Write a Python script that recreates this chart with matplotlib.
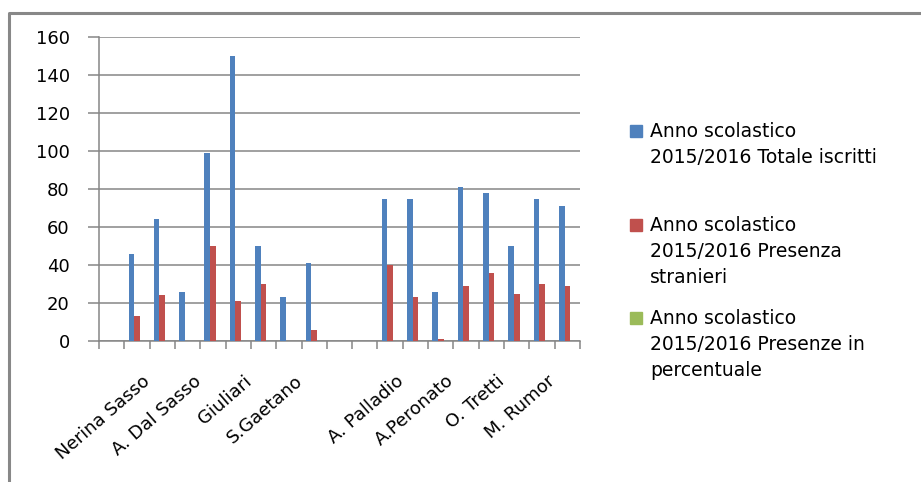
import numpy as np
import matplotlib
matplotlib.use("Agg")
import matplotlib.pyplot as plt
from matplotlib.patches import Rectangle
from matplotlib.lines import Line2D
from matplotlib.transforms import ScaledTranslation

plt.rcParams['font.family'] = ['DejaVu Sans']

# schools, only every other label is shown on the axis
scuole = ["", "Nerina Sasso", "", "A. Dal Sasso", "", "Giuliari", "", "S.Gaetano",
          "", "", "", "A. Palladio", "", "A.Peronato", "", "O. Tretti", "", "M. Rumor", ""]
totale_iscritti = [0, 46, 64, 26, 99, 150, 50, 23, 41, 0, 0, 75, 75, 26, 81, 78, 50, 75, 71]
presenza_stranieri = [0, 13, 24, 0, 50, 21, 30, 0, 6, 0, 0, 40, 23, 1, 29, 36, 25, 30, 29]
presenze_percentuale = [0] * 19

serie = [
    (totale_iscritti, "#4F81BD", ["Anno scolastico", "2015/2016 Totale iscritti"]),
    (presenza_stranieri, "#C0504D", ["Anno scolastico", "2015/2016 Presenza", "stranieri"]),
    (presenze_percentuale, "#9BBB59", ["Anno scolastico", "2015/2016 Presenze in", "percentuale"]),
]
yticks = [0, 20, 40, 60, 80, 100, 120, 140, 160]

W, H = 921, 482
fig = plt.figure(figsize=(W / 100, H / 100), dpi=100)

def fx(px):
    return px / W

def fy(py):
    return 1 - py / H

ax = fig.add_axes([fx(99), fy(341), fx(580) - fx(99), fy(37) - fy(341)])

x = np.arange(len(scuole))
w = 1 / 4.5
for i, (vals, col, _) in enumerate(serie):
    ax.bar(x + (i - 1) * w, vals, width=w, color=col, zorder=3)

grey = "#868686"
ax.set_ylim(0, 160)
ax.set_xlim(-0.5, len(scuole) - 0.5)
ax.set_yticks(yticks)
ax.set_yticklabels([str(v) for v in yticks], fontsize=13)
ax.yaxis.grid(True, color=grey, lw=1.1, zorder=0)
ax.tick_params(axis='y', length=8, width=1.1, color=grey, pad=13)

# category boundaries get the tick marks, centres get the labels
ax.set_xticks(x)
ax.set_xticklabels(scuole, rotation=41, ha='right', va='center',
                   rotation_mode='anchor', fontsize=13)
ax.set_xticks(np.arange(-0.5, len(scuole)), minor=True)
ax.tick_params(axis='x', which='major', length=0, pad=27)
ax.tick_params(axis='x', which='minor', length=6, width=1.1, color=grey)
shift = ScaledTranslation(11 / 100, 0, fig.dpi_scale_trans)
for lab in ax.get_xticklabels():
    lab.set_transform(lab.get_transform() + shift)

for s in ['top', 'right']:
    ax.spines[s].set_visible(False)
for s in ['left', 'bottom']:
    ax.spines[s].set_color(grey)
    ax.spines[s].set_linewidth(1.1)

# legend drawn by hand so the entries are spread evenly
first_base = [137, 231, 324]
for (vals, col, righe), yb in zip(serie, first_base):
    fig.add_artist(Rectangle((fx(630), fy(yb)), fx(642) - fx(630), fy(yb - 12) - fy(yb),
                             transform=fig.transFigure, color=col))
    for k, riga in enumerate(righe):
        fig.text(fx(650), fy(yb + 26 * k), riga, fontsize=13.5, va='baseline', ha='left')

# chart frame
fig.add_artist(Line2D([fx(8.5), fx(8.5), fx(925)], [fy(490), fy(13), fy(13)],
                      transform=fig.transFigure, color="#888888", lw=2.2))

fig.savefig("out.png", dpi=100)
